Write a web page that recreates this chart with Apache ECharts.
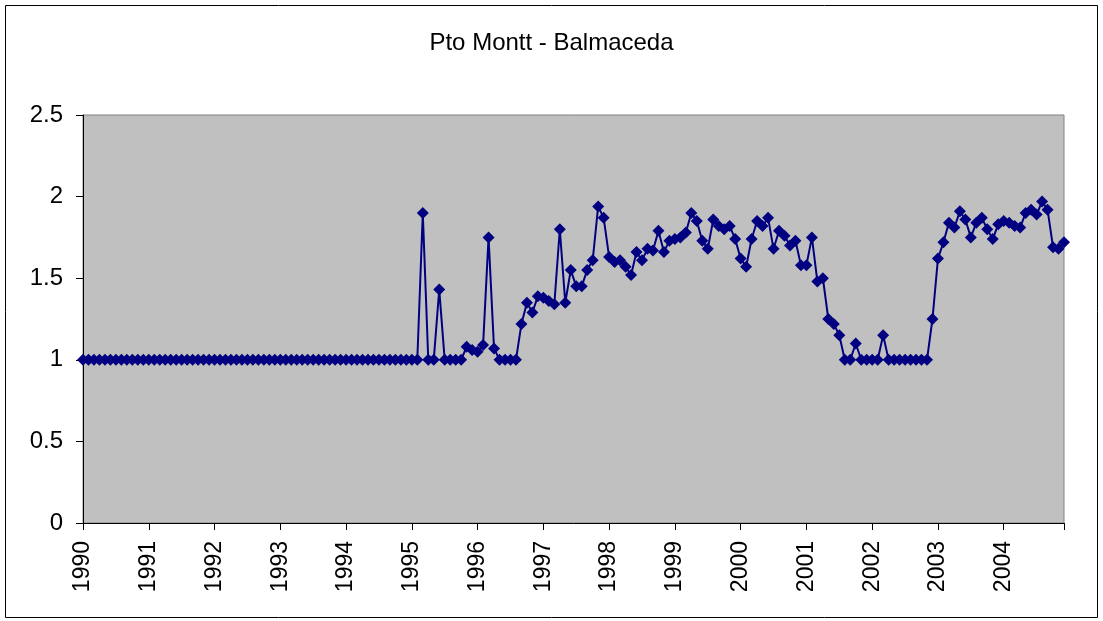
<!DOCTYPE html>
<html>
<head>
<meta charset="utf-8">
<script src="https://cdn.jsdelivr.net/npm/echarts@6/dist/echarts.min.js"></script>
<style>
    html, body { margin: 0; padding: 0; background: #fff; }
    #chart { width: 1103px; height: 621px; }
</style>
</head>
<body>
<div id="chart"></div>
<script>
// monthly series, Jan 1990 .. Dec 2004
const years = [1990, 1991, 1992, 1993, 1994, 1995, 1996, 1997, 1998, 1999, 2000, 2001, 2002, 2003, 2004];
const values = [
    1, 1, 1, 1, 1, 1, 1, 1, 1, 1, 1, 1,                                     // 1990
    1, 1, 1, 1, 1, 1, 1, 1, 1, 1, 1, 1,                                     // 1991
    1, 1, 1, 1, 1, 1, 1, 1, 1, 1, 1, 1,                                     // 1992
    1, 1, 1, 1, 1, 1, 1, 1, 1, 1, 1, 1,                                     // 1993
    1, 1, 1, 1, 1, 1, 1, 1, 1, 1, 1, 1,                                     // 1994
    1, 1, 1.90, 1, 1, 1.43, 1, 1, 1, 1, 1.08, 1.06,                         // 1995
    1.05, 1.09, 1.75, 1.07, 1, 1, 1, 1, 1.22, 1.35, 1.29, 1.39,             // 1996
    1.38, 1.36, 1.34, 1.80, 1.35, 1.55, 1.45, 1.45, 1.55, 1.61, 1.94, 1.87, // 1997
    1.63, 1.60, 1.61, 1.57, 1.52, 1.66, 1.61, 1.68, 1.67, 1.79, 1.66, 1.73, // 1998
    1.74, 1.75, 1.78, 1.90, 1.85, 1.73, 1.68, 1.86, 1.82, 1.80, 1.82, 1.74, // 1999
    1.62, 1.57, 1.74, 1.85, 1.82, 1.87, 1.68, 1.79, 1.76, 1.70, 1.73, 1.58, // 2000
    1.58, 1.75, 1.48, 1.50, 1.25, 1.22, 1.15, 1, 1, 1.10, 1, 1,             // 2001
    1, 1, 1.15, 1, 1, 1, 1, 1, 1, 1, 1, 1.25,                               // 2002
    1.62, 1.72, 1.84, 1.81, 1.91, 1.86, 1.75, 1.84, 1.87, 1.80, 1.74, 1.83, // 2003
    1.85, 1.84, 1.82, 1.81, 1.90, 1.92, 1.89, 1.97, 1.92, 1.69, 1.68, 1.72  // 2004
];
const yTicks = { min: 0, max: 2.5, step: 0.5 };

// one category per month, only January gets the year label
let months = [];
years.forEach(y => {
    for (let m = 1; m <= 12; m++) {
        months.push(m === 1 ? String(y) : y + '-' + m);
    }
});

const font = "'Liberation Sans', Arial, sans-serif";
let myChart = echarts.init(document.getElementById('chart'));
let option = {
    animation: false,
    title: {
        text: 'Pto Montt - Balmaceda',
        left: 'center',
        top: 26,
        textStyle: { fontFamily: font, fontSize: 24, fontWeight: 'normal', color: '#000' }
    },
    graphic: [{
        type: 'rect',
        shape: { x: 5.5, y: 5.5, width: 1092, height: 612 },
        style: { fill: 'none', stroke: '#000', lineWidth: 1 },
        silent: true
    }],
    grid: {
        left: 83,
        top: 115,
        width: 981,
        height: 408,
        show: true,
        backgroundColor: '#C0C0C0',
        borderColor: '#808080',
        borderWidth: 1
    },
    xAxis: {
        type: 'category',
        data: months,
        boundaryGap: false,
        axisLine: { lineStyle: { color: '#000', width: 1 } },
        axisTick: {
            show: true,
            length: 7,
            interval: (index) => index % 12 === 0 || index === months.length - 1,
            lineStyle: { color: '#000' }
        },
        axisLabel: {
            interval: (index) => index % 12 === 0,
            formatter: (v) => v.length === 4 ? v : '',
            rotate: 90,
            margin: 18,
            fontFamily: font,
            fontSize: 23,
            color: '#000'
        },
        splitLine: { show: false }
    },
    yAxis: {
        type: 'value',
        min: yTicks.min,
        max: yTicks.max,
        interval: yTicks.step,
        axisLine: { show: true, lineStyle: { color: '#000', width: 1 } },
        axisTick: { show: true, length: 7, lineStyle: { color: '#000' } },
        axisLabel: {
            margin: 20,
            fontFamily: font,
            fontSize: 24,
            color: '#000'
        },
        splitLine: { show: false }
    },
    series: [{
        type: 'line',
        data: values,
        symbol: 'diamond',
        symbolSize: 12,
        showAllSymbol: true,
        lineStyle: { color: '#000080', width: 2 },
        itemStyle: { color: '#000080' }
    }]
};
myChart.setOption(option);
</script>
</body>
</html>
